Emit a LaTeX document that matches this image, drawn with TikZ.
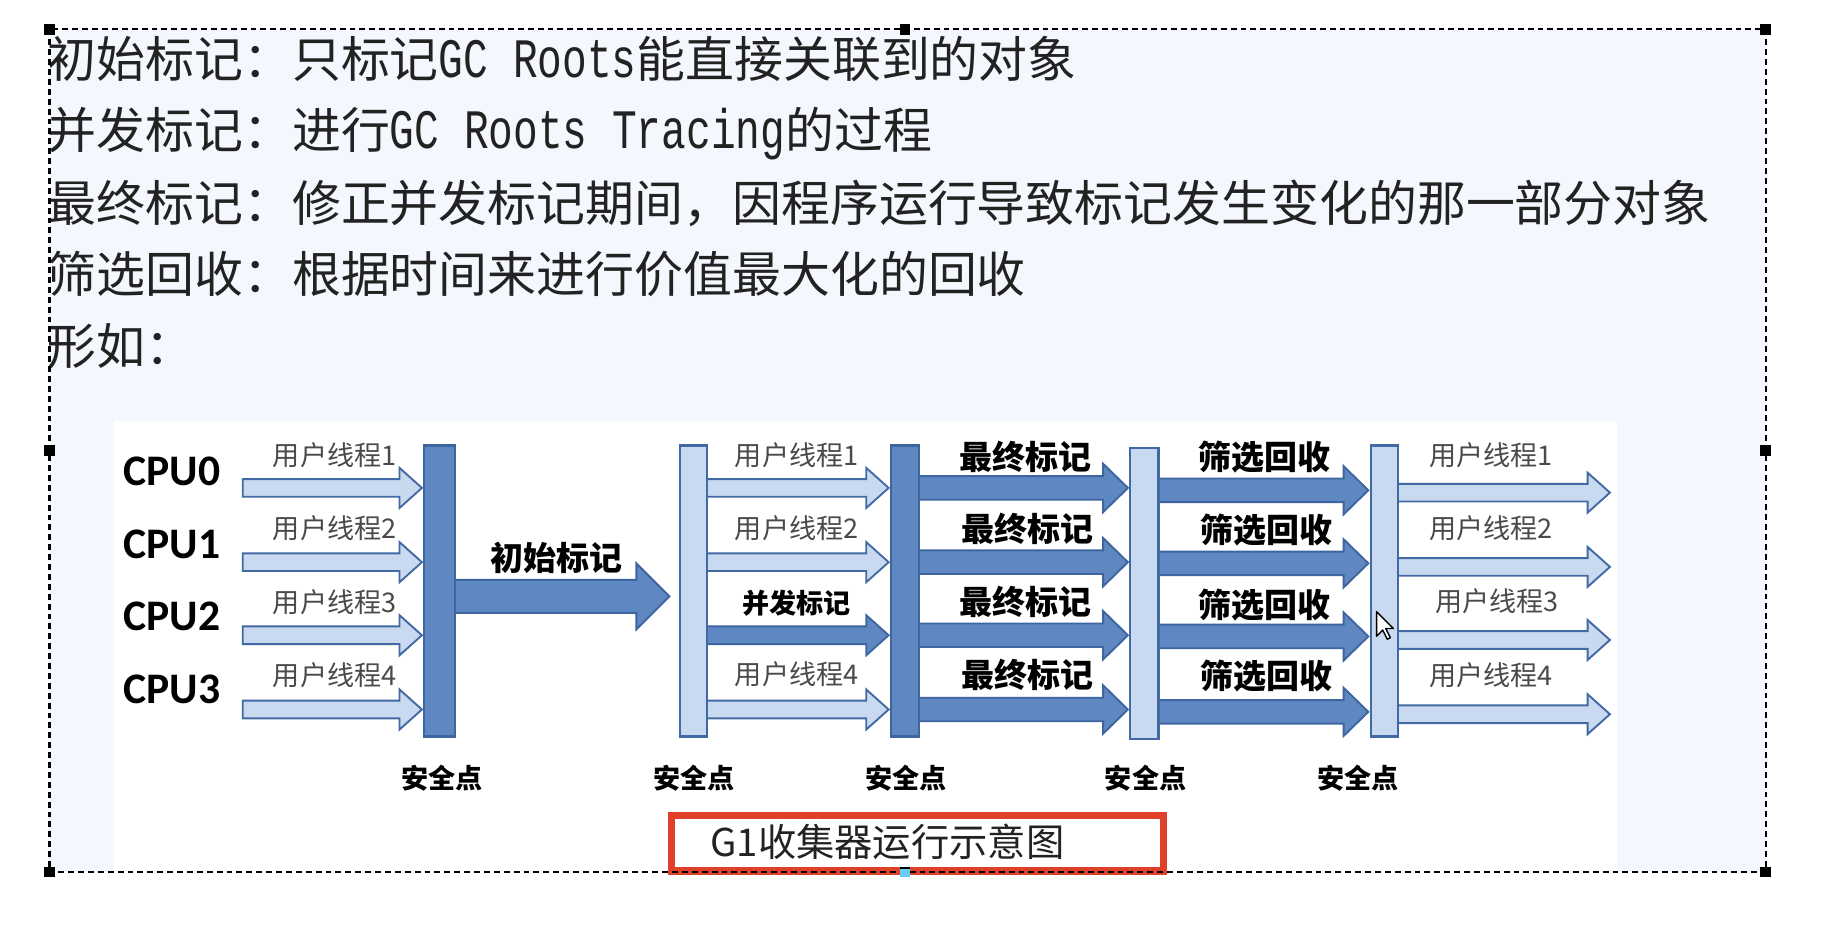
\documentclass[tikz,border=0pt]{standalone}
\usepackage{fontspec}
\usetikzlibrary{calc}
\newfontfamily\cjk{Noto Sans CJK SC}
\newfontfamily\mono{Liberation Mono}[FakeStretch=0.74]
\newfontfamily\cpufont{Carlito}
\definecolor{pagebg}{HTML}{F4F7FD}
\definecolor{darkfill}{HTML}{5F87C2}
\definecolor{darkline}{HTML}{3D65A0}
\definecolor{lightfill}{HTML}{C9D9F0}
\definecolor{lightline}{HTML}{4169A3}
\definecolor{capred}{HTML}{E0402A}
\definecolor{txt}{HTML}{222222}
\definecolor{thr}{HTML}{4A4A4A}
\newcommand\blkarrow[7]{% style, from, to, y, shaft half, head half, head length
  \coordinate (S) at (#2|-0,#4);
  \coordinate (T) at ($(#3|-0,#4)+(-2,0)$);
  \path[#1] ($(S)+(0,-#5)$) -- ($(T)+(-#7,-#5)$) -- ($(T)+(-#7,-#6)$) -- (T)
    -- ($(T)+(-#7,#6)$) -- ($(T)+(-#7,#5)$) -- ($(S)+(0,#5)$) -- cycle;}
\tikzset{
  darkarrow/.style={fill=darkfill,draw=darkline,line width=0.8pt,line join=miter},
  lightarrow/.style={fill=lightfill,draw=lightline,line width=0.8pt,line join=miter},
  darkbar/.style={rectangle,fill=darkfill,draw=darkline,line width=1pt,inner sep=0pt,outer sep=0pt,minimum height=123.5pt},
  lightbar/.style={rectangle,fill=lightfill,draw=lightline,line width=1pt,inner sep=0pt,outer sep=0pt,minimum height=123.5pt},
  topline/.style={anchor=base west,inner sep=0pt,text=txt,font=\cjk\fontsize{20.75pt}{24pt}\selectfont},
  thread/.style={inner sep=0pt,text=thr,font=\cjk\fontsize{11.5pt}{13pt}\selectfont},
  phase/.style={inner sep=0pt,text=black,font=\cjk\bfseries\fontsize{14pt}{16pt}\selectfont},
  smallphase/.style={inner sep=0pt,text=black,font=\cjk\bfseries\fontsize{11.5pt}{13pt}\selectfont},
  cpu/.style={inner sep=0pt,text=black,font=\cpufont\bfseries\fontsize{18.5pt}{20pt}\selectfont},
  handle/.style={fill=black}
}
\newcommand\mo[1]{{\mono\fontsize{23.6pt}{26pt}\selectfont #1}}
\begin{document}
\begin{tikzpicture}[x=0.5pt,y=-0.5pt]
\useasboundingbox (0,0) rectangle (1568,792);
\fill[white] (0,0) rectangle (1568,792);
\fill[pagebg] (42,25) rectangle (1498,740);
\fill[white] (97,357) rectangle (1372,742);
% top text
\node[topline] (l1) at (40,66) {初始标记：只标记\mo{GC Roots}能直接关联到的对象};
\node[topline] (l2) at (40,126) {并发标记：进行\mo{GC Roots Tracing}的过程};
\node[topline] (l3) at (40,188) {最终标记：修正并发标记期间，因程序运行导致标记发生变化的那一部分对象};
\node[topline] (l4) at (40,248) {筛选回收：根据时间来进行价值最大化的回收};
\node[topline] (l5) at (40,309) {形如：};
% bar positions (drawn after the arrows)
\path (373,501.5) node[darkbar,minimum width=13pt,draw=none,fill=none] (b1) {};
\path (588.5,501.5) node[lightbar,minimum width=11.5pt,draw=none,fill=none] (b2) {};
\path (768,501.5) node[darkbar,minimum width=12pt,draw=none,fill=none] (b3) {};
\path (971,503.5) node[lightbar,minimum width=12pt,draw=none,fill=none] (b4) {};
\path (1174.5,501.5) node[lightbar,minimum width=11.5pt,draw=none,fill=none] (b5) {};
\coordinate (s1) at (206,0);
\coordinate (t0) at (570,0);
\coordinate (e5) at (1368,0);
% column 1
\foreach \yy in {414,477,539,602} {\blkarrow{lightarrow}{s1}{b1.west}{\yy}{7.5}{17}{19}}
% initial mark
\blkarrow{darkarrow}{b1.center}{t0}{506}{14}{28}{28}
% column 2
\foreach \yy in {414,477,602} {\blkarrow{lightarrow}{b2.center}{b3.west}{\yy}{7.5}{17}{19}}
\blkarrow{darkarrow}{b2.center}{b3.west}{539}{7.5}{17}{19}
% column 3 and 4
\foreach \yy in {414,477,539,602} {\blkarrow{darkarrow}{b3.center}{b4.west}{\yy}{10}{20.5}{21}}
\foreach \yy in {416,478,540,604} {\blkarrow{darkarrow}{b4.center}{b5.west}{\yy}{10}{20.5}{21}}
% column 5
\foreach \yy in {418,481,543,606} {\blkarrow{lightarrow}{b5.center}{e5}{\yy}{7.5}{17}{19}}
% bars drawn
\node[darkbar,minimum width=13pt] (B1) at (b1) {};
\node[lightbar,minimum width=11.5pt] (B2) at (b2) {};
\node[darkbar,minimum width=12pt] (B3) at (b3) {};
\node[lightbar,minimum width=12pt] (B4) at (b4) {};
\node[lightbar,minimum width=11.5pt] (B5) at (b5) {};
% CPU labels
\node[cpu] (cpu0) at (146,400) {CPU0};
\node[cpu] (cpu1) at (146,462) {CPU1};
\node[cpu] (cpu2) at (146,523) {CPU2};
\node[cpu] (cpu3) at (146,585) {CPU3};
% thread labels col 1
\node[thread] (a1) at (284,386) {用户线程1};
\node[thread] (a2) at (284,448) {用户线程2};
\node[thread] (a3) at (284,511) {用户线程3};
\node[thread] (a4) at (284,573) {用户线程4};
\node[phase] (init) at (472,473) {初始标记};
% col 2
\node[thread] (c1) at (676,386) {用户线程1};
\node[thread] (c2) at (676,448) {用户线程2};
\node[smallphase] (c3) at (676,512) {并发标记};
\node[thread] (c4) at (676,572) {用户线程4};
% col 3
\node[phase] (f1) at (870,388) {最终标记};
\node[phase] (f2) at (872,449) {最终标记};
\node[phase] (f3) at (870,511) {最终标记};
\node[phase] (f4) at (872,573) {最终标记};
% col 4
\node[phase] (g1) at (1073,388) {筛选回收};
\node[phase] (g2) at (1075,450) {筛选回收};
\node[phase] (g3) at (1073,513) {筛选回收};
\node[phase] (g4) at (1075,574) {筛选回收};
% col 5
\node[thread] (h1) at (1265,386) {用户线程1};
\node[thread] (h2) at (1265,448) {用户线程2};
\node[thread] (h3) at (1270,510) {用户线程3};
\node[thread] (h4) at (1265,573) {用户线程4};
% safe points
\foreach \xx/\nm in {375/sp1,589/sp2,769/sp3,972/sp4,1152/sp5}
  \node[smallphase] (\nm) at (\xx,660) {安全点};
% caption
\node[draw=capred,line width=3pt,fill=white,inner sep=0pt,minimum width=208.5pt,minimum height=23.5pt] (cap) at (778.5,715.5) {};
\node[inner sep=0pt,text=txt,font=\cjk\fontsize{16.25pt}{18pt}\selectfont] (captext) at (753,714) {G1收集器运行示意图};
% cursor
\draw[black,fill=white,line width=0.6pt,line join=round,shift={(1168,519)},x=0.65pt,y=-0.65pt]
  (0,0) -- (0,16) -- (4,12) -- (7,18) -- (9,17) -- (6,11) -- (11,11) -- cycle;
% frame
\draw[black,line width=0.85pt,dash pattern=on 2.5pt off 1.7pt] (42,25) rectangle (1498,740);
\foreach \hx/\hy in {42/25,768/25,1498/25,42/382,1498/382,42/740,1498/740}
  \fill[handle] (\hx-4.5,\hy-4.5) rectangle (\hx+4.5,\hy+4.5);
\fill[cyan!60!white] (763.5,735.5) rectangle (772.5,744.5);
\fill[black] (763.5,735.5) rectangle (772.5,737.5);
\end{tikzpicture}
\end{document}
